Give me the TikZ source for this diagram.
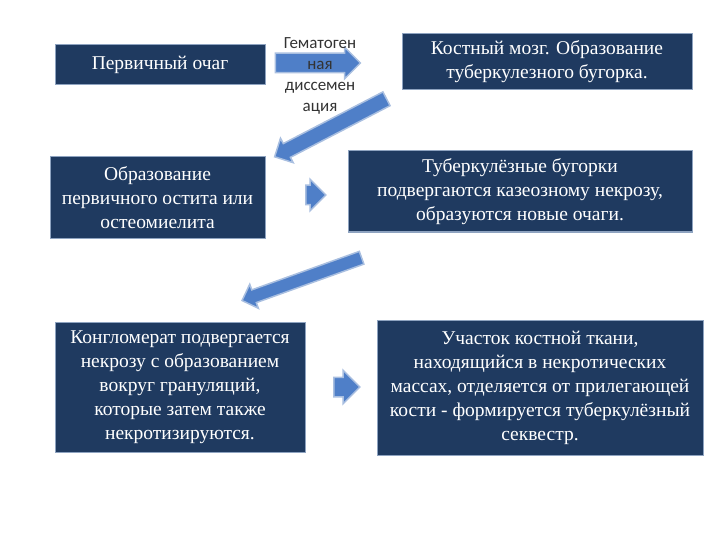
\documentclass[tikz,border=0pt]{standalone}
\usepackage{fontspec}
\setmainfont{Liberation Serif}
\newfontfamily\calib{Carlito}
\usetikzlibrary{shapes.arrows}
\definecolor{navy}{HTML}{1F3A60}
\definecolor{edge}{HTML}{8EA3C0}
\definecolor{arr}{HTML}{4F7FC8}
\definecolor{arredge}{HTML}{A9BFE0}
\begin{document}
\begin{tikzpicture}[x=1pt,y=-1pt,
  box/.style={fill=navy,draw=edge,line width=1pt,text=white,align=center,
    font=\fontsize{19.5}{24}\selectfont,inner sep=1pt},
  barrow/.style={single arrow,fill=arr,draw=arredge,line width=1.5pt,
    inner xsep=0pt,anchor=center}]
\useasboundingbox (0,0) rectangle (720,540);
\node[box,minimum width=210,minimum height=40] (b1) at (160,65) {Первичный очаг};
\node[box,minimum width=290,minimum height=56] (b2) at (547,62) {Костный мозг. Образование\\туберкулезного бугорка.};
\node[box,minimum width=215,minimum height=81] (b3) at (157.5,197.5) {Образование\\первичного остита или\\остеомиелита};
\node[box,minimum width=344,minimum height=81] (b4) at (520,191.5) {Туберкулёзные бугорки\\подвергаются казеозному некрозу,\\образуются новые очаги.};
\node[box,minimum width=250,minimum height=130] (b5) at (180,387) {Конгломерат подвергается\\некрозу с образованием\\вокруг грануляций,\\которые затем также\\некротизируются.};
\node[box,minimum width=326,minimum height=135] (b6) at (540,387.5) {Участок костной ткани,\\находящийся в некротических\\массах, отделяется от прилегающей\\кости - формируется туберкулёзный\\секвестр.};
\node[barrow,minimum height=85,inner ysep=9pt,single arrow head extend=6pt] (a1) at (313,63) {};
\node[text=black!80,align=center,font=\calib\fontsize{17}{21}\selectfont] (t1) at (320,76) {Гематоген\\ная\\диссемен\\ация};
\node[barrow,minimum height=126,inner ysep=7pt,single arrow head extend=6pt,rotate=207.4] (a2) at (334,126) {};
\node[barrow,minimum height=20,inner ysep=9pt,single arrow head extend=6pt] (a3) at (311,195) {};
\node[barrow,minimum height=127,inner ysep=6pt,single arrow head extend=6pt,rotate=199.7] (a4) at (305,278) {};
\node[barrow,minimum height=26,inner ysep=9pt,single arrow head extend=7pt] (a5) at (342,387) {};
\end{tikzpicture}
\end{document}
